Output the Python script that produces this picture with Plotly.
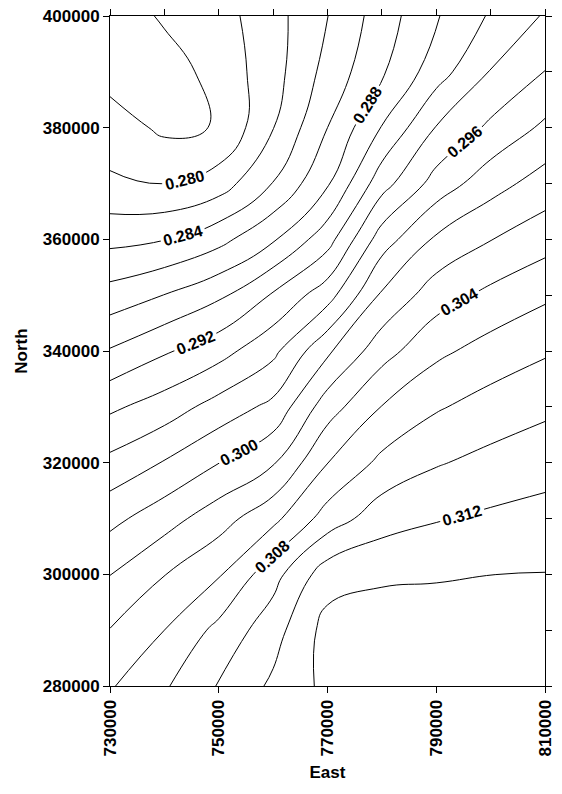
import plotly.graph_objects as go

# Grid coordinates (metres)
east = [730000, 740000, 750000, 760000, 770000, 780000, 790000, 800000, 810000]
north = [400000, 390000, 380000, 370000, 360000, 350000, 340000,
         330000, 320000, 310000, 300000, 290000, 280000]

# Gridded values, one list per northing row (north to south)
row_400000 = [0.2768, 0.27827, 0.2792, 0.28125, 0.28397, 0.28698, 0.28984, 0.29223, 0.2942]
row_390000 = [0.2772, 0.2771, 0.2787, 0.28121, 0.2847, 0.2877, 0.2911, 0.2941, 0.29604]
row_380000 = [0.2790, 0.2776, 0.2781, 0.28194, 0.2860, 0.2901, 0.2941, 0.2964, 0.29839]
row_370000 = [0.2803, 0.27995, 0.2810, 0.28407, 0.28777, 0.2932, 0.2968, 0.2992, 0.30088]
row_360000 = [0.28344, 0.28392, 0.28536, 0.28776, 0.29119, 0.29701, 0.30032, 0.30194, 0.30318]
row_350000 = [0.28681, 0.28804, 0.28961, 0.29222, 0.29517, 0.3003, 0.30308, 0.30449, 0.30565]
row_340000 = [0.29017, 0.29176, 0.29323, 0.2955, 0.29964, 0.3032, 0.30554, 0.3068, 0.30776]
row_330000 = [0.29362, 0.29493, 0.2968, 0.29853, 0.30307, 0.30606, 0.30778, 0.30881, 0.30957]
row_320000 = [0.29654, 0.29813, 0.29996, 0.30181, 0.30596, 0.3085, 0.30983, 0.31059, 0.31121]
row_310000 = [0.29941, 0.30116, 0.30313, 0.30546, 0.30888, 0.31115, 0.31186, 0.31235, 0.31269]
row_300000 = [0.30196, 0.30394, 0.3058, 0.30925, 0.3131, 0.31358, 0.3138, 0.31399, 0.31405]
row_290000 = [0.30407, 0.306, 0.30857, 0.31116, 0.31474, 0.3154, 0.3151, 0.3149, 0.3148]
row_280000 = [0.3058, 0.30776, 0.31013, 0.31238, 0.31452, 0.3156, 0.3153, 0.3151, 0.3150]

rows = [row_400000, row_390000, row_380000, row_370000, row_360000, row_350000,
        row_340000, row_330000, row_320000, row_310000, row_300000, row_290000,
        row_280000]

# Unlabelled contours (0.278, 0.282, ...) and labelled ones (0.280, 0.284, ...)
plain_start, plain_end, plain_step = 0.278, 0.314, 0.004
label_start, label_end, label_step = 0.280, 0.312, 0.004

z = rows[::-1]
y = north[::-1]

black = [[0, "black"], [1, "black"]]
font_family = "Liberation Sans, Arial, sans-serif"

fig = go.Figure()

fig.add_trace(go.Contour(
    x=east, y=y, z=z,
    contours=dict(start=plain_start, end=plain_end, size=plain_step,
                  coloring="lines", showlabels=False),
    colorscale=black, showscale=False,
    line=dict(width=1, smoothing=1.3),
    hoverinfo="skip",
))

fig.add_trace(go.Contour(
    x=east, y=y, z=z,
    contours=dict(start=label_start, end=label_end, size=label_step,
                  coloring="lines", showlabels=True,
                  labelfont=dict(family=font_family, size=16, color="black",
                                 weight="bold"),
                  labelformat=".3f"),
    colorscale=black, showscale=False,
    line=dict(width=1, smoothing=1.3),
    hoverinfo="skip",
))

# Empty trace so the top/right tick axes are drawn
fig.add_trace(go.Scatter(x=[], y=[], xaxis="x2", yaxis="y2",
                         showlegend=False, hoverinfo="skip"))

axis_font = dict(family=font_family, size=17, color="black", weight="bold")
title_font = dict(family=font_family, size=17, color="black", weight="bold")

fig.update_layout(
    width=562, height=794,
    margin=dict(l=110, r=7, t=15, b=108),
    paper_bgcolor="white", plot_bgcolor="white",
    showlegend=False,
    xaxis=dict(
        range=[730000, 810000], tickmode="linear", tick0=730000, dtick=20000,
        tickangle=-90, tickformat="d", ticks="outside", ticklen=6,
        tickcolor="black", showline=True, linecolor="black", linewidth=1,
        showgrid=False, zeroline=False, tickfont=axis_font,
        title=dict(text="East", font=title_font, standoff=10),
    ),
    yaxis=dict(
        range=[280000, 400000], tickmode="linear", tick0=280000, dtick=20000,
        tickformat="d", ticks="outside", ticklen=6, tickcolor="black",
        showline=True, linecolor="black", linewidth=1,
        showgrid=False, zeroline=False, tickfont=axis_font,
        title=dict(text="North", font=title_font, standoff=10),
    ),
    xaxis2=dict(
        range=[730000, 810000], overlaying="x", side="top", anchor="y2",
        tickmode="linear", tick0=730000, dtick=10000, ticks="outside",
        ticklen=6, tickcolor="black", showticklabels=False,
        showline=True, linecolor="black", linewidth=1,
        showgrid=False, zeroline=False,
    ),
    yaxis2=dict(
        range=[280000, 400000], overlaying="y", side="right", anchor="x2",
        tickmode="linear", tick0=280000, dtick=10000, ticks="outside",
        ticklen=6, tickcolor="black", showticklabels=False,
        showline=True, linecolor="black", linewidth=1,
        showgrid=False, zeroline=False,
    ),
)

fig.write_html("out.html")
